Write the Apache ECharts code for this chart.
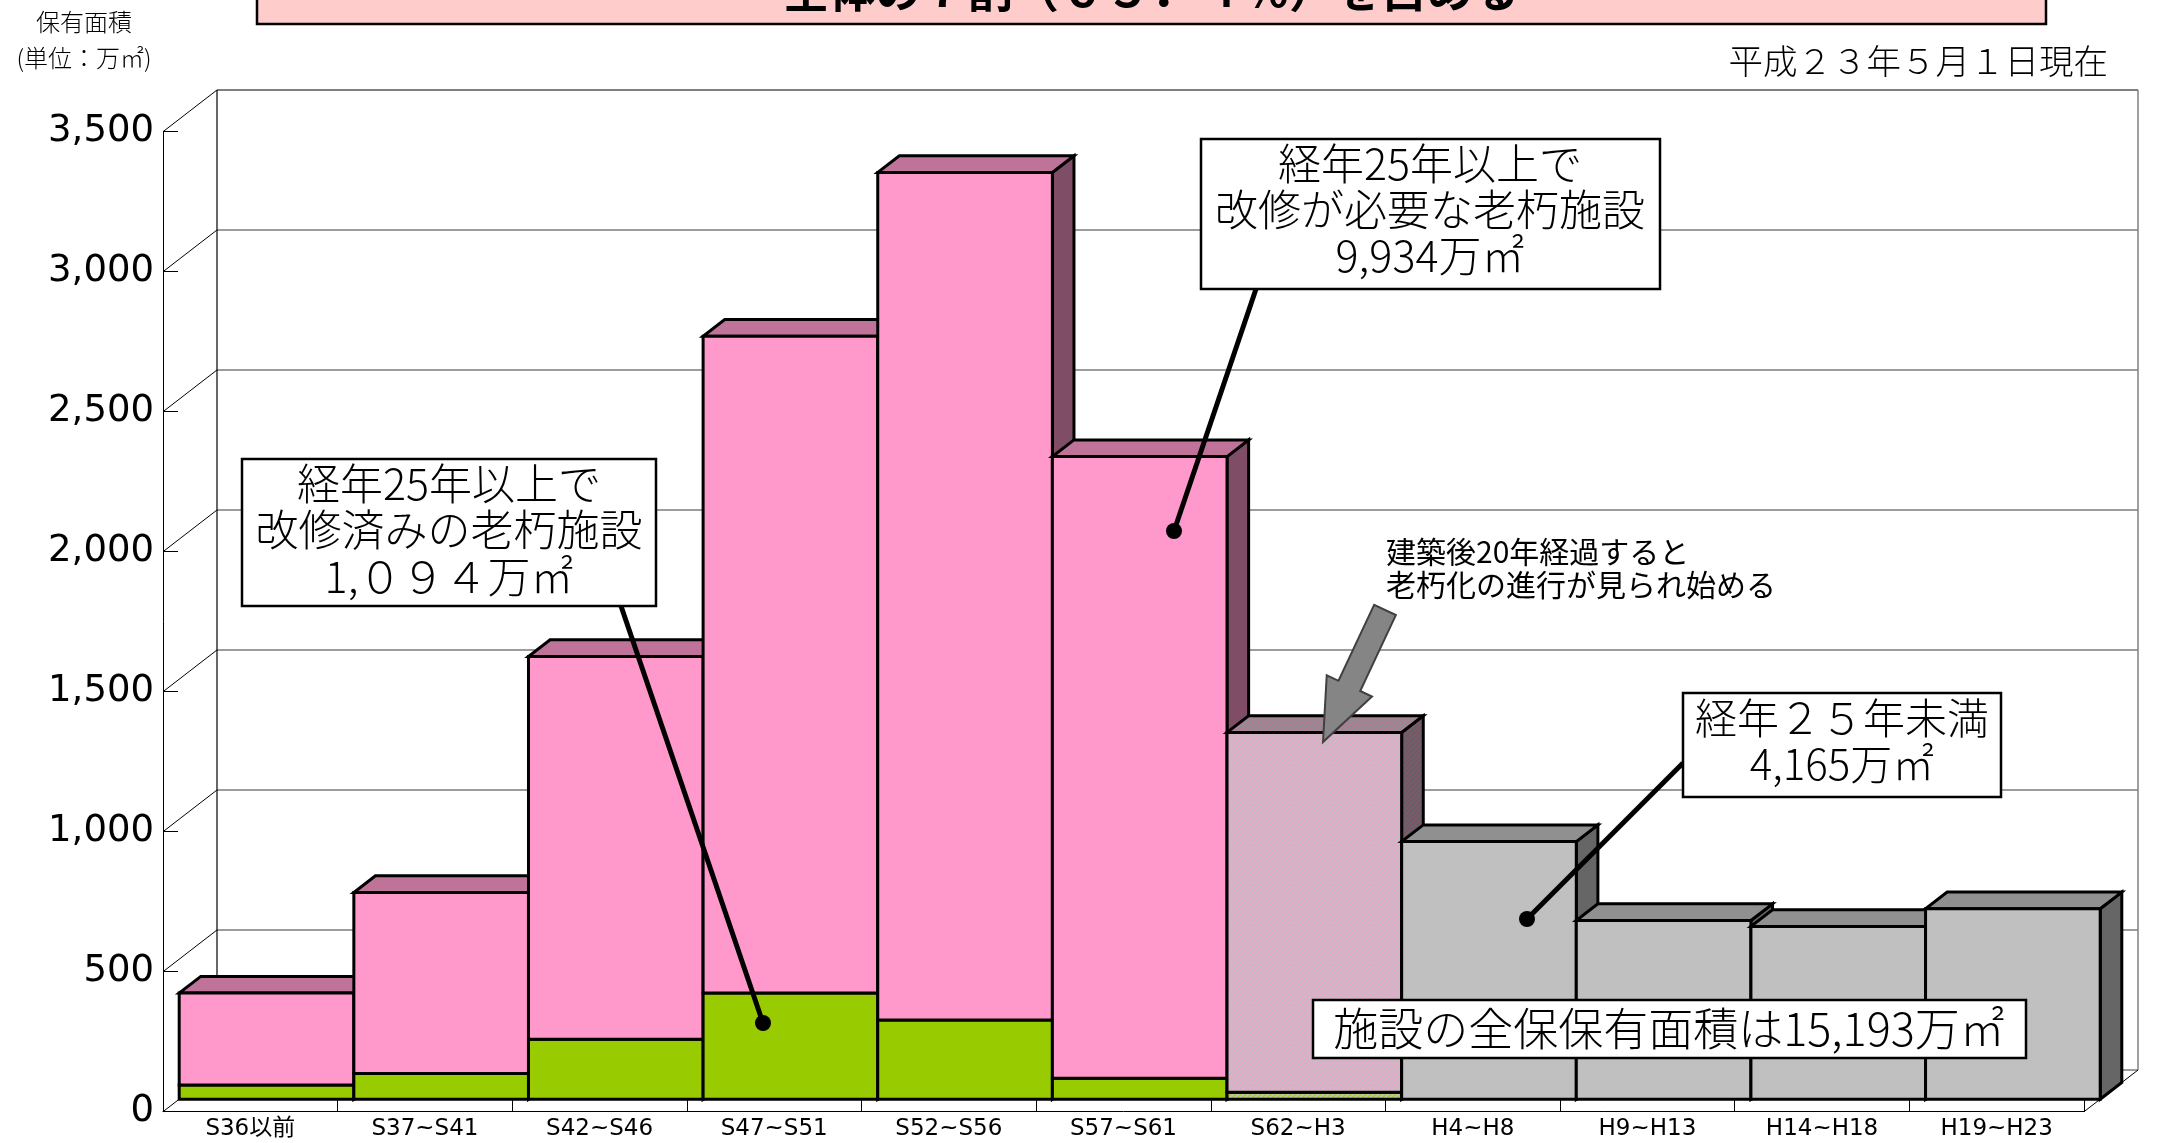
<!DOCTYPE html>
<html><head><meta charset="utf-8">
<script src="https://cdn.jsdelivr.net/npm/echarts@6/dist/echarts.min.js"></script>
<style>html,body{margin:0;padding:0;background:#fff;}#c{width:2179px;height:1143px;}</style>
</head><body><div id="c"></div>
<script>
// ---------- data ----------
const categories = ['S36以前','S37~S41','S42~S46','S47~S51','S52~S56','S57~S61','S62~H3','H4~H8','H9~H13','H14~H18','H19~H23'];
// 経年25年以上で改修済み (計 1,094)
const repaired        = [51, 92, 214, 379, 283, 75, 0, 0, 0, 0, 0];
// 経年25年以上で改修が必要 (計 9,934)
const needRepair      = [328, 646, 1367, 2346, 3027, 2220, 0, 0, 0, 0, 0];
// 建築後20年経過 (S62~H3) lower / upper part
const transitionLower = [0, 0, 0, 0, 0, 0, 25, 0, 0, 0, 0];
const transitionUpper = [0, 0, 0, 0, 0, 0, 1285, 0, 0, 0, 0];
// 経年25年未満 remaining
const younger         = [0, 0, 0, 0, 0, 0, 0, 920, 638, 617, 680];
const yTicks      = [0, 500, 1000, 1500, 2000, 2500, 3000, 3500];
const yTickLabels = ['0', '500', '1,000', '1,500', '2,000', '2,500', '3,000', '3,500'];

// ---------- style / layout ----------
const WALL = [54, -41.7];       // depth offset of back wall
const BAR_FRONT = 0.3, BAR_BACK = 0.7;
const JP = '"Noto Sans CJK JP", sans-serif';
const NUM = '"DejaVu Sans", "Noto Sans CJK JP", sans-serif';

function stripe(bg, fg, size, w) {
  const c = document.createElement('canvas');
  c.width = size; c.height = size;
  const g = c.getContext('2d');
  g.fillStyle = bg; g.fillRect(0, 0, size, size);
  g.strokeStyle = fg; g.lineWidth = w;
  g.beginPath();
  g.moveTo(-2, size + 2); g.lineTo(size + 2, -2);
  g.moveTo(-2, 2); g.lineTo(2, -2);
  g.moveTo(size - 2, size + 2); g.lineTo(size + 2, size - 2);
  g.stroke();
  return { image: c, repeat: 'repeat' };
}

const STYLES = {
  1: { front: '#99CC00', top: '#6E9200', side: '#4D6600' },
  2: { front: '#FF99CC', top: '#C07399', side: '#804D66' },
  3: { front: stripe('#C0C0C0', '#A8CC30', 5, 1.6), top: stripe('#909090', '#7E9A2A', 5, 1.6), side: stripe('#666666', '#5E7420', 5, 1.6) },
  4: { front: stripe('#C0C0C0', '#EEA2CC', 5, 1.6), top: stripe('#8E8E8E', '#B47A98', 5, 1.6), side: stripe('#626262', '#86566E', 5, 1.6) },
  5: { front: '#C0C0C0', top: '#909090', side: '#666666' }
};
const EDGE = { stroke: '#000', lineWidth: 3, lineJoin: 'miter' };

const barData = categories.map((c, i) => [i, repaired[i], needRepair[i], transitionLower[i], transitionUpper[i], younger[i]]);

function renderFrame(params, api) {
  const cs = params.coordSys;
  const x0 = cs.x, x1 = cs.x + cs.width;
  const dx = WALL[0], dy = WALL[1];
  const ch = [];
  const yTop = api.coord([0, yTicks[yTicks.length - 1]])[1];
  const yBot = api.coord([0, 0])[1];
  yTicks.forEach((v, k) => {
    const y = api.coord([0, v])[1];
    ch.push({ type: 'line', shape: { x1: x0 + dx, y1: y + dy, x2: x1 + dx, y2: y + dy },
      style: { stroke: k === yTicks.length - 1 ? '#000' : '#3a3a3a', lineWidth: 1.2 } });
    ch.push({ type: 'line', shape: { x1: x0, y1: y, x2: x0 + dx, y2: y + dy }, style: { stroke: '#000', lineWidth: 1 } });
  });
  ch.push({ type: 'line', shape: { x1: x0 + dx, y1: yTop + dy, x2: x0 + dx, y2: yBot + dy }, style: { stroke: '#000', lineWidth: 1.2 } });
  ch.push({ type: 'line', shape: { x1: x1 + dx, y1: yTop + dy, x2: x1 + dx, y2: yBot + dy }, style: { stroke: '#808080', lineWidth: 1.5 } });
  ch.push({ type: 'line', shape: { x1: x1, y1: yBot, x2: x1 + dx, y2: yBot + dy }, style: { stroke: '#000', lineWidth: 1 } });
  return { type: 'group', children: ch };
}

function renderBar(params, api) {
  const i = api.value(0);
  const c0 = api.coord([i, 0]);
  const bw = api.size([1, 0])[0];
  const L = c0[0] - bw / 2, R = c0[0] + bw / 2;
  const f = [WALL[0] * BAR_FRONT, WALL[1] * BAR_FRONT];
  const b = [WALL[0] * BAR_BACK, WALL[1] * BAR_BACK];
  let acc = 0;
  const segs = [];
  for (let k = 1; k <= 5; k++) {
    const v = api.value(k);
    if (v > 0) {
      segs.push({ k, y0: api.coord([i, acc])[1], y1: api.coord([i, acc + v])[1] });
      acc += v;
    }
  }
  if (!segs.length) return null;
  const ch = [];
  segs.forEach(s => {
    ch.push({ type: 'polygon', shape: { points: [[R + f[0], s.y0 + f[1]], [R + b[0], s.y0 + b[1]], [R + b[0], s.y1 + b[1]], [R + f[0], s.y1 + f[1]]] },
      style: Object.assign({ fill: STYLES[s.k].side }, EDGE) });
  });
  const t = segs[segs.length - 1];
  ch.push({ type: 'polygon', shape: { points: [[L + f[0], t.y1 + f[1]], [R + f[0], t.y1 + f[1]], [R + b[0], t.y1 + b[1]], [L + b[0], t.y1 + b[1]]] },
    style: Object.assign({ fill: STYLES[t.k].top }, EDGE) });
  segs.forEach(s => {
    ch.push({ type: 'polygon', shape: { points: [[L + f[0], s.y0 + f[1]], [R + f[0], s.y0 + f[1]], [R + f[0], s.y1 + f[1]], [L + f[0], s.y1 + f[1]]] },
      style: Object.assign({ fill: STYLES[s.k].front }, EDGE) });
  });
  return { type: 'group', children: ch };
}

function box(x, y, w, h) {
  return { type: 'rect', z: 100, shape: { x, y, width: w, height: h }, style: { fill: '#fff', stroke: '#000', lineWidth: 2.5 } };
}
function txt(x, y, text, size, opts) {
  return { type: 'text', z: 101, x, y, style: Object.assign({ text, fontSize: size, fontFamily: JP, fontWeight: 300, fill: '#000',
    align: 'center', textAlign: 'center', verticalAlign: 'middle', textVerticalAlign: 'middle' }, opts || {}) };
}
function leader(xa, ya, xb, yb) {
  return [
    { type: 'line', z: 99, shape: { x1: xa, y1: ya, x2: xb, y2: yb }, style: { stroke: '#000', lineWidth: 5 } },
    { type: 'circle', z: 99, shape: { cx: xb, cy: yb, r: 8 }, style: { fill: '#000' } }
  ];
}
function arrow(tx, ty, hx, hy, sw, hw, hl) {
  const vx = hx - tx, vy = hy - ty, len = Math.hypot(vx, vy);
  const ux = vx / len, uy = vy / len, nx = -uy, ny = ux;
  const bx = hx - ux * hl, by = hy - uy * hl;
  return { type: 'polygon', z: 99, shape: { points: [
    [tx + nx * sw, ty + ny * sw], [bx + nx * sw, by + ny * sw], [bx + nx * hw, by + ny * hw], [hx, hy],
    [bx - nx * hw, by - ny * hw], [bx - nx * sw, by - ny * sw], [tx - nx * sw, ty - ny * sw]] },
    style: { fill: '#858585', stroke: '#404040', lineWidth: 2, lineJoin: 'miter' } };
}

const graphics = [
  { type: 'rect', z: 100, shape: { x: 257, y: -10, width: 1789, height: 34 }, style: { fill: '#FFCCCC', stroke: '#000', lineWidth: 2.5 } },
  txt(1151, 13, '全体の７割（６５．４％）を占める', 46, { fontWeight: 'bold', verticalAlign: 'bottom', textVerticalAlign: 'bottom' }),
  txt(84, 22, '保有面積', 24),
  txt(84, 58, '(単位：万㎡)', 24),
  txt(2108, 61, '平成２３年５月１日現在', 34.5, { align: 'right', textAlign: 'right' }),
  ...leader(621, 606, 763, 1023),
  ...leader(1256, 289, 1174, 531),
  ...leader(1683, 763, 1527, 919),
  box(242, 459, 414, 147),
  txt(449, 530, '経年25年以上で\n改修済みの老朽施設\n1,０９４万㎡', 43, { lineHeight: 46.5 }),
  box(1201, 139, 459, 150),
  txt(1430, 210, '経年25年以上で\n改修が必要な老朽施設\n9,934万㎡', 43, { lineHeight: 46 }),
  box(1683, 693, 318, 104),
  txt(1842, 741, '経年２５年未満\n4,165万㎡', 42, { lineHeight: 46 }),
  box(1313, 1000, 713, 58),
  txt(1669, 1029, '施設の全保保有面積は15,193万㎡', 45),
  txt(1386, 568, '建築後20年経過すると\n老朽化の進行が見られ始める', 30, { align: 'left', textAlign: 'left', lineHeight: 33, fontWeight: 'normal' }),
  arrow(1385, 610, 1323, 742, 12, 25, 62)
];

const chart = echarts.init(document.getElementById('c'), null, { renderer: 'canvas' });
chart.setOption({
  animation: false,
  backgroundColor: '#fff',
  grid: { left: 163, right: 95, top: 131.7, bottom: 31.3, show: false },
  xAxis: {
    type: 'category', data: categories, boundaryGap: true,
    axisLine: { show: true, lineStyle: { color: '#000', width: 1 } },
    axisTick: { show: true, inside: true, length: 13, interval: 0, lineStyle: { color: '#000', width: 1 } },
    axisLabel: { interval: 0, margin: 6, fontSize: 23, fontFamily: NUM, color: '#000' },
    splitLine: { show: false }
  },
  yAxis: {
    type: 'value', min: yTicks[0], max: yTicks[yTicks.length - 1], interval: yTicks[1] - yTicks[0],
    axisLine: { show: true, lineStyle: { color: '#000', width: 1 } },
    axisTick: { show: true, inside: true, length: 15, lineStyle: { color: '#000', width: 1 } },
    axisLabel: { margin: 9, fontSize: 37, fontFamily: NUM, color: '#000', padding: [7, 0, 0, 0],
      formatter: v => yTickLabels[yTicks.indexOf(v)] },
    splitLine: { show: false }
  },
  series: [
    { type: 'custom', name: 'frame', coordinateSystem: 'cartesian2d', renderItem: renderFrame, data: [[0, 0]], clip: false, z: 1, silent: true },
    { type: 'custom', name: 'bars', coordinateSystem: 'cartesian2d', renderItem: renderBar, data: barData,
      encode: { x: 0, y: [1, 2, 3, 4, 5] }, clip: false, z: 2 }
  ],
  graphic: graphics
});
</script>
</body></html>
